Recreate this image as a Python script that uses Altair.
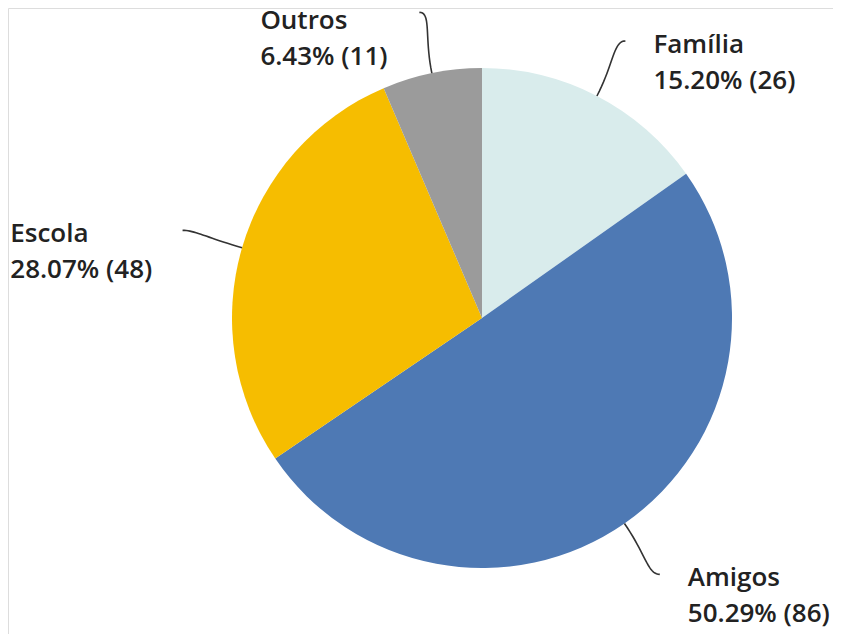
import altair as alt
import pandas as pd

categories = ["Família", "Amigos", "Escola", "Outros"]
counts = [26, 86, 48, 11]
colors = ["#d9ecec", "#4e79b4", "#f6bd00", "#9b9b9b"]

df = pd.DataFrame({"cat": categories, "count": counts, "idx": list(range(len(categories)))})

CX, CY, R, R2 = 474, 310, 250, 312

base = (
    alt.Chart(df)
    .transform_joinaggregate(total="sum(count)")
    .transform_window(cum="sum(count)", sort=[alt.SortField("idx")], frame=[None, 0])
    .transform_calculate(
        mid="(datum.cum - datum.count/2)/datum.total*2*PI",
        val="format(datum.count/datum.total*100, '.2f') + '% (' + datum.count + ')'",
    )
    .transform_calculate(
        side="sin(datum.mid) > 0 ? 1 : -1",
        x0=f"{CX} + {R}*sin(datum.mid)",
        y0=f"{CY} - {R}*cos(datum.mid)",
        x1=f"{CX} + {R2}*sin(datum.mid)",
        y1=f"{CY} - {R2}*cos(datum.mid)",
        lbl="datum.cat + '\\n' + datum.val",
    )
    .transform_calculate(
        tx="datum.side > 0 ? datum.x1 + 28 : datum.x1 - 26 - 13.3*length(datum.val)",
        ty="max(datum.y1 + 12, 21)",
    )
)

arcs = base.mark_arc(outerRadius=R, strokeWidth=0).encode(
    theta=alt.Theta("count:Q", stack=True),
    color=alt.Color("cat:N", scale=alt.Scale(domain=categories, range=colors), legend=None),
    order=alt.Order("idx:Q"),
    x=alt.value(CX),
    y=alt.value(CY),
)

leaders = (
    base.transform_calculate(ts="sequence(0, 21)")
    .transform_flatten(["ts"])
    .transform_calculate(t="datum.ts/20")
    .transform_calculate(
        bx1="datum.x0 + 0.6*(datum.x1 - datum.x0)",
        by1="datum.y0 + 0.6*(datum.y1 - datum.y0)",
        bx2="datum.x1 - datum.side*12",
        by2="datum.y1",
    )
    .transform_calculate(
        px="pow(1-datum.t,3)*datum.x0 + 3*pow(1-datum.t,2)*datum.t*datum.bx1 + 3*(1-datum.t)*pow(datum.t,2)*datum.bx2 + pow(datum.t,3)*datum.x1",
        py="pow(1-datum.t,3)*datum.y0 + 3*pow(1-datum.t,2)*datum.t*datum.by1 + 3*(1-datum.t)*pow(datum.t,2)*datum.by2 + pow(datum.t,3)*datum.y1",
    )
    .mark_line(color="#333333", strokeWidth=1.6)
    .encode(
        x=alt.X("px:Q", scale=None, axis=None),
        y=alt.Y("py:Q", scale=None, axis=None),
        detail="cat:N",
        order=alt.Order("t:Q"),
    )
)

labels = base.mark_text(
    align="left", baseline="alphabetic", lineBreak="\n", lineHeight=36,
    font="Open Sans", fontSize=26, fontWeight=600, color="#222222",
).encode(
    x=alt.X("tx:Q", scale=None, axis=None),
    y=alt.Y("ty:Q", scale=None, axis=None),
    text="lbl:N",
)

chart = (
    alt.layer(arcs, leaders, labels)
    .properties(width=825, height=626, padding=0, autosize="none")
    .configure_view(stroke="transparent", strokeWidth=0, fill="white")
    .configure(background="white")
)

chart.save("out.html", embed_options={"renderer": "svg", "actions": False})
